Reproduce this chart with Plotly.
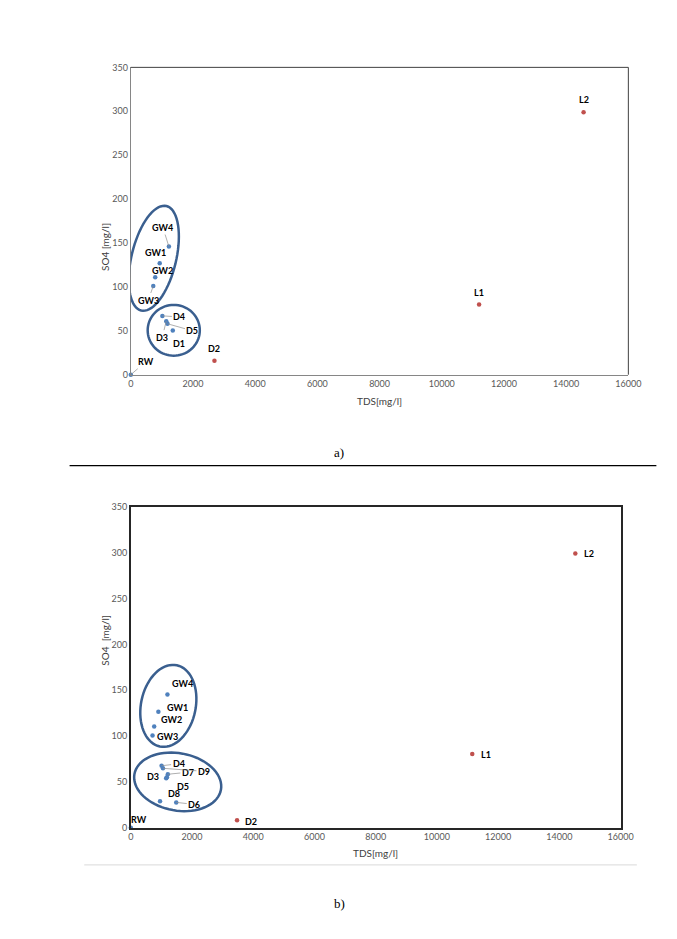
"""
TDS vs SO4 scatter plots (two panels, a and b)
"""
import numpy as np
import plotly.graph_objects as go

# Panel a) data
top_names = ['RW', 'GW1', 'GW2', 'GW3', 'GW4', 'D1', 'D2', 'D3', 'D4', 'D5', 'L1', 'L2']
top_tds = [0, 930, 785, 723, 1225, 1350, 2690, 1140, 1015, 1180, 11200, 14560]
top_so4 = [0, 127, 111, 101, 146, 50.5, 16, 61, 67, 58, 80, 299]

# Panel b) data
bottom_names = ['RW', 'GW1', 'GW2', 'GW3', 'GW4', 'D2', 'D3', 'D4', 'D5', 'D6',
                'D7', 'D8', 'D9', 'L1', 'L2']
bottom_tds = [0, 901, 764, 710, 1197, 3471, 1156, 1006, 1180, 1484,
              1210, 955, 1051, 11156, 14522]
bottom_so4 = [0, 126.6, 110.4, 100.7, 145.3, 8.2, 54, 67.6, 55, 27.6,
              58.3, 28.7, 64.8, 80.4, 299.3]

red_points = ['D2', 'L1', 'L2']
x_ticks = list(range(0, 16001, 2000))
y_ticks = list(range(0, 351, 50))

W, H = 677, 939
BLUE = '#4F81BD'
RED = '#C0504D'
RING = '#3A5F8F'
FONT = 'Lato'

# label offsets in pixels (ax, ay, leader line)
top_labels = {
    'GW4': (-6, -19, True), 'GW1': (-4, -11, False), 'GW2': (7, -7, False),
    'GW3': (-5, 14, True), 'D4': (17, 1, True), 'D5': (25, 7, True),
    'D3': (-4, 16, True), 'D1': (6, 13, False), 'D2': (0, -12, False),
    'RW': (15, -13, True), 'L1': (0, -12, False), 'L2': (0, -13, False),
}
bottom_labels = {
    'GW4': (15, -11, False), 'GW1': (19, -4, False), 'GW2': (17, -7, False),
    'GW3': (15, 1, False), 'D4': (17, -2, True), 'D9': (41, 3, True),
    'D7': (20, -2, True), 'D3': (-13, -2, False), 'D5': (16, 9, False),
    'D8': (14, -8, False), 'D6': (18, 2, True), 'D2': (14, 1, False),
    'RW': (8, -8, False), 'L1': (14, 0, False), 'L2': (14, 0, False),
}

# plot-area domains (paper units)
top_dom = ([122.7 / W, 632.3 / W], [1 - 365 / H, 1 - 54 / H])
bottom_dom = ([122.7 / W, 624.3 / W], [1 - 823.3 / H, 1 - 499 / H])

# ellipses: center in data, semi-axes in px, angle (deg, screen, y up)
top_rings = [(740, 132.6, 54.4, 22.8, 76.2), (1381, 50.6, 26.7, 25.7, 0)]
bottom_rings = [(1226, 133, 42, 28, 78), (1532, 50, 45, 29, -10)]


def ellipse_path(cx, cy, a, b, angle, dom):
    """Build an SVG path for a rotated ellipse drawn in data coordinates"""
    sx = (dom[0][1] - dom[0][0]) * W / 16000
    sy = (dom[1][1] - dom[1][0]) * H / 350
    th = np.radians(angle)
    t = np.linspace(0, 2 * np.pi, 73)
    px = a * np.cos(t) * np.cos(th) - b * np.sin(t) * np.sin(th)
    py = a * np.cos(t) * np.sin(th) + b * np.sin(t) * np.cos(th)
    xs = cx + px / sx
    ys = cy + py / sy
    pts = ['%s%.2f,%.3f' % ('M' if i == 0 else 'L', x, y) for i, (x, y) in enumerate(zip(xs, ys))]
    return ' '.join(pts) + ' Z'


fig = go.Figure()


def add_panel(fig, names, tds, so4, labels, rings, dom, ax_id):
    xa = 'x' if ax_id == 1 else 'x%d' % ax_id
    ya = 'y' if ax_id == 1 else 'y%d' % ax_id
    colors = [RED if n in red_points else BLUE for n in names]
    fig.add_trace(go.Scatter(
        x=tds, y=so4, mode='markers', xaxis=xa, yaxis=ya,
        marker=dict(color=colors, size=4.5), cliponaxis=False,
        showlegend=False, hoverinfo='text', text=names
    ))
    for n, x, y in zip(names, tds, so4):
        ax, ay, leader = labels[n]
        fig.add_annotation(
            x=x, y=y, xref=xa, yref=ya, text='<b>%s</b>' % n,
            showarrow=True, ax=ax, ay=ay, arrowhead=0, arrowwidth=0.7,
            arrowcolor='#8C8C8C' if leader else 'rgba(0,0,0,0)', standoff=0,
            font=dict(family=FONT, size=9, color='black')
        )
    for cx, cy, a, b, ang in rings:
        fig.add_shape(type='path', xref=xa, yref=ya,
                      path=ellipse_path(cx, cy, a, b, ang, dom),
                      line=dict(color=RING, width=2.5))


add_panel(fig, top_names, top_tds, top_so4, top_labels, top_rings, top_dom, 1)
add_panel(fig, bottom_names, bottom_tds, bottom_so4, bottom_labels, bottom_rings, bottom_dom, 2)

axis_style = dict(
    range=[0, 16000], tickvals=x_ticks, tickformat='d', showgrid=False, zeroline=False,
    showline=True, ticks='', tickfont=dict(family=FONT, size=9, color='#595959')
)
yaxis_style = dict(
    range=[0, 350], tickvals=y_ticks, tickformat='d', showgrid=False, zeroline=False,
    showline=True, ticks='', tickfont=dict(family=FONT, size=9, color='#595959')
)

fig.update_layout(
    width=W, height=H, margin=dict(l=0, r=0, t=0, b=0),
    paper_bgcolor='white', plot_bgcolor='white', showlegend=False,
    xaxis=dict(domain=top_dom[0], anchor='y', linecolor='#868686', linewidth=1, **axis_style),
    yaxis=dict(domain=top_dom[1], anchor='x', linecolor='#868686', linewidth=1, **yaxis_style),
    xaxis2=dict(domain=bottom_dom[0], anchor='y2', linecolor='#262626', linewidth=1.5,
                mirror=True, **axis_style),
    yaxis2=dict(domain=bottom_dom[1], anchor='x2', linecolor='#262626', linewidth=1.5,
                mirror=True, **yaxis_style),
)

# top/right border of panel a
fig.add_shape(type='line', xref='x domain', yref='y domain', x0=0, x1=1, y0=1, y1=1,
              line=dict(color='#404040', width=1))
fig.add_shape(type='line', xref='x domain', yref='y domain', x0=1, x1=1, y0=0, y1=1,
              line=dict(color='#404040', width=1))

# axis titles, captions and separators
texts = [
    ('TDS[mg/l]', 377.5, 392, 0, FONT, 10, '#404040'),
    ('SO4 [mg/l]', 88, 209.5, -90, FONT, 10, '#404040'),
    ('TDS[mg/l]', 373.5, 857, 0, FONT, 10, '#404040'),
    ('SO4  [mg/l]', 88, 661, -90, FONT, 10, '#404040'),
    ('a)', 336, 444, 0, 'Liberation Serif', 13, 'black'),
    ('b)', 336, 910, 0, 'Liberation Serif', 13, 'black'),
]
for t, px, py, rot, fam, size, col in texts:
    fig.add_annotation(text=t.replace('  ', '&nbsp; '), x=px / W, y=1 - py / H,
                       xref='paper', yref='paper', showarrow=False, textangle=rot,
                       font=dict(family=fam, size=size, color=col))

fig.add_shape(type='line', xref='paper', yref='paper', x0=60 / W, x1=661 / W,
              y0=1 - 457 / H, y1=1 - 457 / H, line=dict(color='black', width=1.3))
fig.add_shape(type='line', xref='paper', yref='paper', x0=75 / W, x1=641 / W,
              y0=1 - 861 / H, y1=1 - 861 / H, line=dict(color='#D9D9D9', width=1))

fig.write_html("out.html")
